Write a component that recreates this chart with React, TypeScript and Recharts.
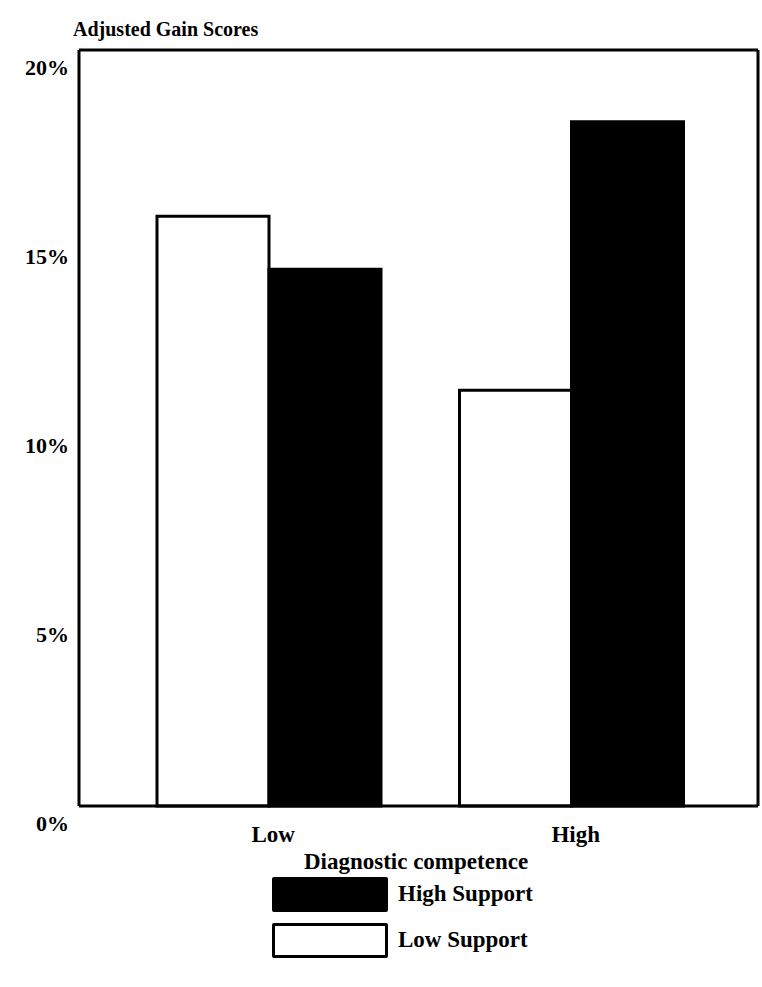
import React from 'react'
import { BarChart, Bar, XAxis, YAxis, ReferenceLine } from 'recharts'

const competence = ['Low', 'High']
const lowSupport = [15.6, 11.0]
const highSupport = [14.2, 18.1]
const yTicks = [0, 5, 10, 15, 20]

const data = competence.map((c, i) => ({
  name: c,
  low: lowSupport[i],
  high: highSupport[i],
}))

const FONT = '"Liberation Serif", "Times New Roman", serif'

function YTick(props: any) {
  const { x, y, payload } = props
  return (
    <text
      x={x - 2}
      y={y + 25}
      textAnchor="end"
      fontFamily={FONT}
      fontWeight="bold"
      fontSize={22}
      fill="#000"
    >
      {payload.value}%
    </text>
  )
}

function XTick(props: any) {
  const { x, y, payload } = props
  return (
    <text
      x={x + 4}
      y={y + 28}
      textAnchor="middle"
      fontFamily={FONT}
      fontWeight="bold"
      fontSize={23}
      fill="#000"
    >
      {payload.value}
    </text>
  )
}

function LegendBox() {
  const items = [
    { label: 'High Support', fill: '#000' },
    { label: 'Low Support', fill: '#fff' },
  ]
  return (
    <div style={{ fontFamily: FONT, fontWeight: 'bold', fontSize: 23 }}>
      {items.map((it) => (
        <div
          key={it.label}
          style={{ display: 'flex', alignItems: 'center', height: 46 }}
        >
          <div
            style={{
              width: 110,
              height: 29,
              background: it.fill,
              border: '3px solid #000',
              borderRadius: 2,
              marginRight: 10,
            }}
          />
          <span>{it.label}</span>
        </div>
      ))}
    </div>
  )
}

export default function App() {
  return (
    <div
      style={{
        position: 'absolute',
        left: 0,
        top: 0,
        width: 762,
        height: 987,
        background: '#fff',
      }}
    >
      <div
        style={{
          position: 'absolute',
          left: 73,
          top: 18,
          fontFamily: FONT,
          fontWeight: 'bold',
          fontSize: 20,
        }}
      >
        Adjusted Gain Scores
      </div>
      <div
        style={{
          position: 'absolute',
          left: 0,
          width: 832,
          top: 849,
          textAlign: 'center',
          fontFamily: FONT,
          fontWeight: 'bold',
          fontSize: 23,
        }}
      >
        Diagnostic competence
      </div>
      <div style={{ position: 'absolute', left: 272, top: 871 }}>
        <LegendBox />
      </div>
      <BarChart
        width={762}
        height={987}
        data={data}
        margin={{ top: 50, right: 3, bottom: 151, left: 0 }}
        barGap={0}
        barCategoryGap={39}
      >
        <XAxis
          dataKey="name"
          tick={<XTick />}
          tickLine={false}
          axisLine={{ stroke: '#000', strokeWidth: 3 }}
          padding={{ left: 39, right: 35 }}
          height={30}
        />
        <YAxis
          domain={[0, 20]}
          ticks={yTicks}
          tick={<YTick />}
          tickLine={false}
          axisLine={{ stroke: '#000', strokeWidth: 3 }}
          width={79}
        />
        <YAxis
          yAxisId="frame"
          orientation="right"
          domain={[0, 20]}
          tick={false}
          tickLine={false}
          axisLine={{ stroke: '#000', strokeWidth: 3 }}
          width={1}
        />
        <ReferenceLine y={20} stroke="#000" strokeWidth={3} />
        <Bar
          dataKey="low"
          name="Low Support"
          fill="#fff"
          stroke="#000"
          strokeWidth={3}
          isAnimationActive={false}
        />
        <Bar
          dataKey="high"
          name="High Support"
          fill="#000"
          stroke="#000"
          strokeWidth={3}
          isAnimationActive={false}
        />
      </BarChart>
    </div>
  )
}
